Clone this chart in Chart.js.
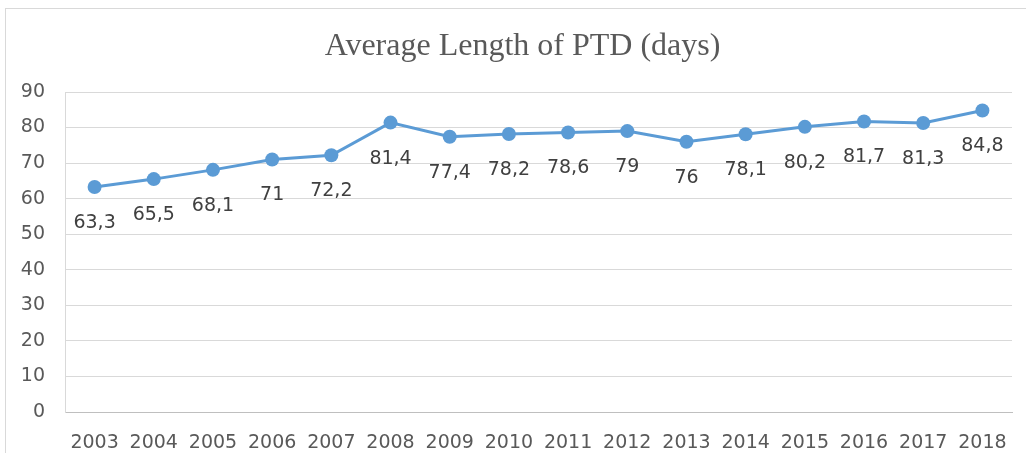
<!DOCTYPE html>
<html>
<head>
<meta charset="utf-8">
<script src="https://cdn.jsdelivr.net/npm/chart.js@4/dist/chart.umd.min.js"></script>
<style>
  html, body { margin:0; padding:0; background:#fff; overflow:hidden; }
  #wrap { position:relative; width:1026px; height:453px; }
  #frame { position:absolute; left:5px; top:8px; width:1200px; height:600px; border:1px solid #d9d9d9; }
  canvas { position:absolute; left:0; top:0; }
</style>
</head>
<body>
<div id="wrap">
  <div id="frame"></div>
  <canvas id="chart" width="1026" height="453"></canvas>
</div>
<script>
const years = ['2003','2004','2005','2006','2007','2008','2009','2010','2011','2012','2013','2014','2015','2016','2017','2018'];
const avgDays = [63.3, 65.5, 68.1, 71, 72.2, 81.4, 77.4, 78.2, 78.6, 79, 76, 78.1, 80.2, 81.7, 81.3, 84.8];
const chartTitle = 'Average Length of PTD (days)';

const fmt = v => String(v).replace('.', ',');

// title + value labels drawn by hand (no datalabels plugin)
const extras = {
  id: 'extras',
  afterDatasetsDraw(chart) {
    const ctx = chart.ctx;
    ctx.save();
    ctx.fillStyle = '#595959';
    ctx.font = '32px "Liberation Serif"';
    ctx.textAlign = 'center';
    ctx.textBaseline = 'middle';
    ctx.fillText(chartTitle, (chart.chartArea.left + chart.chartArea.right) / 2 - 16, 47);

    ctx.fillStyle = '#404040';
    ctx.font = '19px "DejaVu Sans"';
    chart.getDatasetMeta(0).data.forEach((pt, i) => {
      ctx.fillText(fmt(avgDays[i]), pt.x, pt.y + 36);
    });
    ctx.restore();
  }
};

new Chart(document.getElementById('chart'), {
  type: 'line',
  data: {
    labels: years,
    datasets: [{
      data: avgDays,
      borderColor: '#5b9bd5',
      backgroundColor: '#5b9bd5',
      borderWidth: 3,
      pointRadius: 7,
      pointHoverRadius: 7,
      pointBorderWidth: 0,
      tension: 0
    }]
  },
  options: {
    responsive: false,
    devicePixelRatio: 1,
    animation: false,
    layout: { padding: { top: 92, right: 14, left: 0, bottom: 0 } },
    plugins: { legend: { display: false }, tooltip: { enabled: false }, title: { display: false } },
    scales: {
      x: {
        offset: true,
        grid: { display: false },
        border: { color: '#bfbfbf', width: 1 },
        ticks: { color: '#595959', font: { family: 'DejaVu Sans', size: 19 }, padding: 12, maxRotation: 0, autoSkip: false },
        afterFit(s) { s.height = 41; }
      },
      y: {
        min: 0, max: 90,
        grid: { color: '#d9d9d9', drawTicks: false },
        border: { color: '#d9d9d9', display: true },
        ticks: { stepSize: 10, color: '#595959', font: { family: 'DejaVu Sans', size: 19 }, padding: 20 },
        afterFit(s) { s.width = 65; }
      }
    }
  },
  plugins: [extras]
});
</script>
</body>
</html>
